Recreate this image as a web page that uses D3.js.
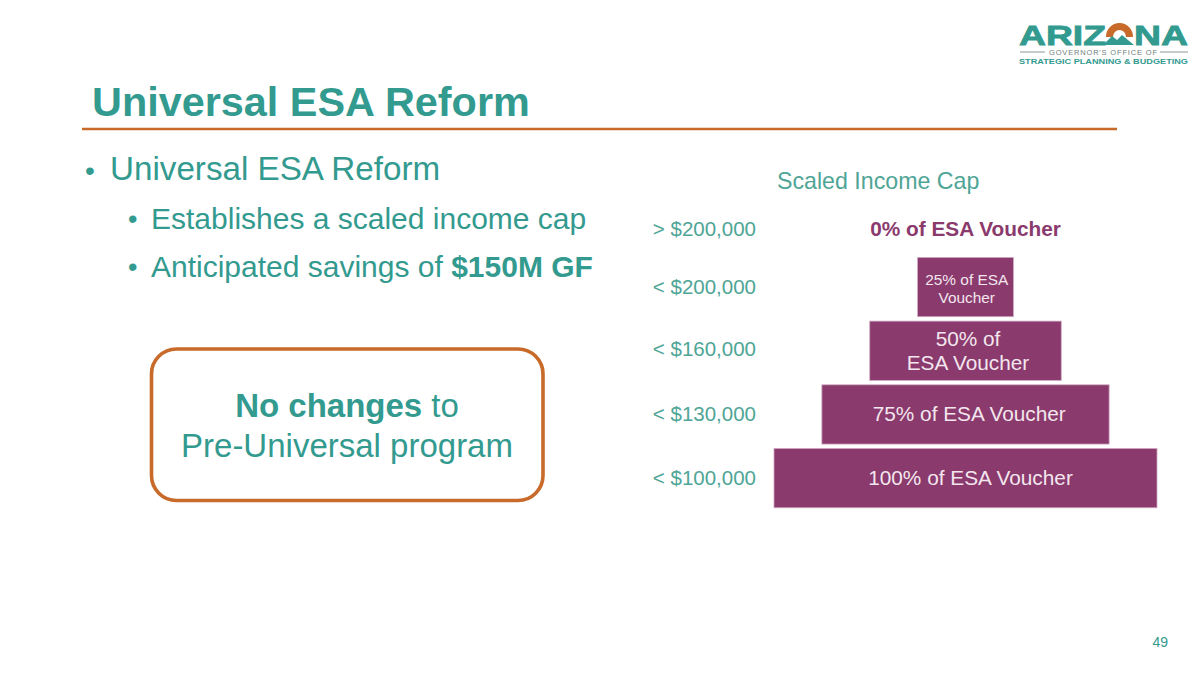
<!DOCTYPE html>
<html>
<head>
<meta charset="utf-8">
<script src="https://cdn.jsdelivr.net/npm/d3@7/dist/d3.min.js"></script>
<style>
  html, body { margin: 0; padding: 0; background: #fff; }
  svg { display: block; }
  text { font-family: "Liberation Sans", Arial, sans-serif; }
</style>
</head>
<body>
<svg id="slide" width="1200" height="675"></svg>
<script>
// values
const incomeLabels = ['> $200,000', '< $200,000', '< $160,000', '< $130,000', '< $100,000'];
const voucherPct = [0, 25, 50, 75, 100];
const barLabels = [
  ['0% of ESA Voucher'],
  ['25% of ESA', 'Voucher'],
  ['50% of', 'ESA Voucher'],
  ['75% of ESA Voucher'],
  ['100% of ESA Voucher']
];

const teal = '#339a8f';
const softTeal = '#4fa596';
const purple = '#8a3a6c';
const orange = '#c76a2a';
const barText = '#f3e6ee';

const svg = d3.select('#slide');

// header
svg.append('text').attr('x', 92).attr('y', 116)
  .attr('font-size', 41.4).attr('font-weight', 700).attr('fill', teal)
  .text('Universal ESA Reform');
svg.append('line').attr('x1', 82).attr('x2', 1117).attr('y1', 129).attr('y2', 129)
  .attr('stroke', orange).attr('stroke-width', 2.5);

// bullets
const bullets = svg.append('g').attr('fill', teal);
bullets.append('text').attr('x', 85).attr('y', 180).attr('font-size', 28).text('•');
bullets.append('text').attr('x', 110).attr('y', 179.5).attr('font-size', 33.2).text('Universal ESA Reform');
bullets.append('text').attr('x', 128).attr('y', 228).attr('font-size', 27).text('•');
bullets.append('text').attr('x', 151).attr('y', 229).attr('font-size', 30).text('Establishes a scaled income cap');
bullets.append('text').attr('x', 128).attr('y', 276).attr('font-size', 27).text('•');
const savings = bullets.append('text').attr('x', 151).attr('y', 276.5).attr('font-size', 30);
savings.append('tspan').text('Anticipated savings of ');
savings.append('tspan').attr('font-weight', 700).text('$150M GF');

// callout box
svg.append('rect').attr('x', 151.5).attr('y', 349).attr('width', 391.5).attr('height', 151.5).attr('rx', 25)
  .attr('fill', '#fff').attr('stroke', orange).attr('stroke-width', 3.6);
const box = svg.append('g').attr('fill', teal).attr('font-size', 33).attr('text-anchor', 'middle');
const boxLine = box.append('text').attr('x', 347).attr('y', 417);
boxLine.append('tspan').attr('font-weight', 700).text('No changes');
boxLine.append('tspan').text(' to');
box.append('text').attr('x', 347).attr('y', 456.5).text('Pre-Universal program');

// scaled income cap pyramid
const centerX = 965.5;
const widthScale = d3.scaleLinear().domain([0, 100]).range([0, 383]);
const rowScale = d3.scaleBand().domain(incomeLabels).range([191.5, 510]).paddingInner(0.07).paddingOuter(0.035);

svg.append('text').attr('x', 777).attr('y', 189).attr('font-size', 23.2).attr('fill', softTeal)
  .text('Scaled Income Cap');

const rows = incomeLabels.map((label, i) => ({ label, pct: voucherPct[i], lines: barLabels[i] }));
const rowMid = d => rowScale(d.label) + rowScale.bandwidth() / 2 + (d.pct === 0 ? 6 : 0);

svg.append('g').selectAll('rect').data(rows.filter(d => d.pct > 0)).join('rect')
  .attr('x', d => centerX - widthScale(d.pct) / 2)
  .attr('y', d => rowScale(d.label))
  .attr('width', d => widthScale(d.pct))
  .attr('height', rowScale.bandwidth())
  .attr('fill', purple)
  .attr('stroke', '#cfa6c0').attr('stroke-width', 0.8);

svg.append('g').selectAll('text').data(rows).join('text')
  .attr('x', 756).attr('y', d => rowMid(d) + (d.pct === 50 ? 5 : 7))
  .attr('text-anchor', 'end').attr('font-size', 20.5).attr('fill', softTeal)
  .text(d => d.label);

const barFont = d => d.pct === 25 ? 15.4 : 20.8;
const lineGap = d => d.pct === 25 ? 18 : 24;
svg.append('g').selectAll('g').data(rows).join('g').each(function (d) {
  d3.select(this).selectAll('text').data(d.lines).join('text')
    .attr('x', centerX + d.pct * 0.05)
    .attr('y', (l, i) => rowMid(d) + 7 + (i - (d.lines.length - 1) / 2) * lineGap(d))
    .attr('text-anchor', 'middle')
    .attr('font-size', barFont(d))
    .attr('font-weight', d.pct === 0 ? 700 : 400)
    .attr('fill', d.pct === 0 ? purple : barText)
    .text(l => l);
});

// logo
const logo = svg.append('g');
const logoWord = (x, w, t) => logo.append('text').attr('x', x).attr('y', 45)
  .attr('font-size', 28).attr('font-weight', 700).attr('fill', teal)
  .attr('stroke', teal).attr('stroke-width', 0.8)
  .attr('textLength', w).attr('lengthAdjust', 'spacingAndGlyphs').text(t);
logoWord(1019, 87, 'ARIZ');
logoWord(1134, 54, 'NA');
logo.append('path').attr('d', 'M1106 37A13.5 14 0 0 1 1133 37L1126 37A6.5 7 0 0 0 1113 37Z').attr('fill', orange);
logo.append('path').attr('d', 'M1103 45L1112 36L1117 40L1122 35L1134 45Z').attr('fill', teal);
logo.append('line').attr('x1', 1020).attr('x2', 1045).attr('y1', 52).attr('y2', 52).attr('stroke', '#8b9a98').attr('stroke-width', 1);
logo.append('line').attr('x1', 1160).attr('x2', 1188).attr('y1', 52).attr('y2', 52).attr('stroke', '#8b9a98').attr('stroke-width', 1);
logo.append('text').attr('x', 1049).attr('y', 55).attr('font-size', 7.5).attr('fill', '#6f7f7d')
  .attr('textLength', 108).attr('lengthAdjust', 'spacing').text("GOVERNOR'S OFFICE OF");
logo.append('text').attr('x', 1019).attr('y', 64).attr('font-size', 7.5).attr('font-weight', 700).attr('fill', teal)
  .attr('textLength', 169).attr('lengthAdjust', 'spacingAndGlyphs').text('STRATEGIC PLANNING & BUDGETING');

// page number
svg.append('text').attr('x', 1168).attr('y', 647).attr('text-anchor', 'end')
  .attr('font-size', 14).attr('fill', teal).text('49');
</script>
</body>
</html>
